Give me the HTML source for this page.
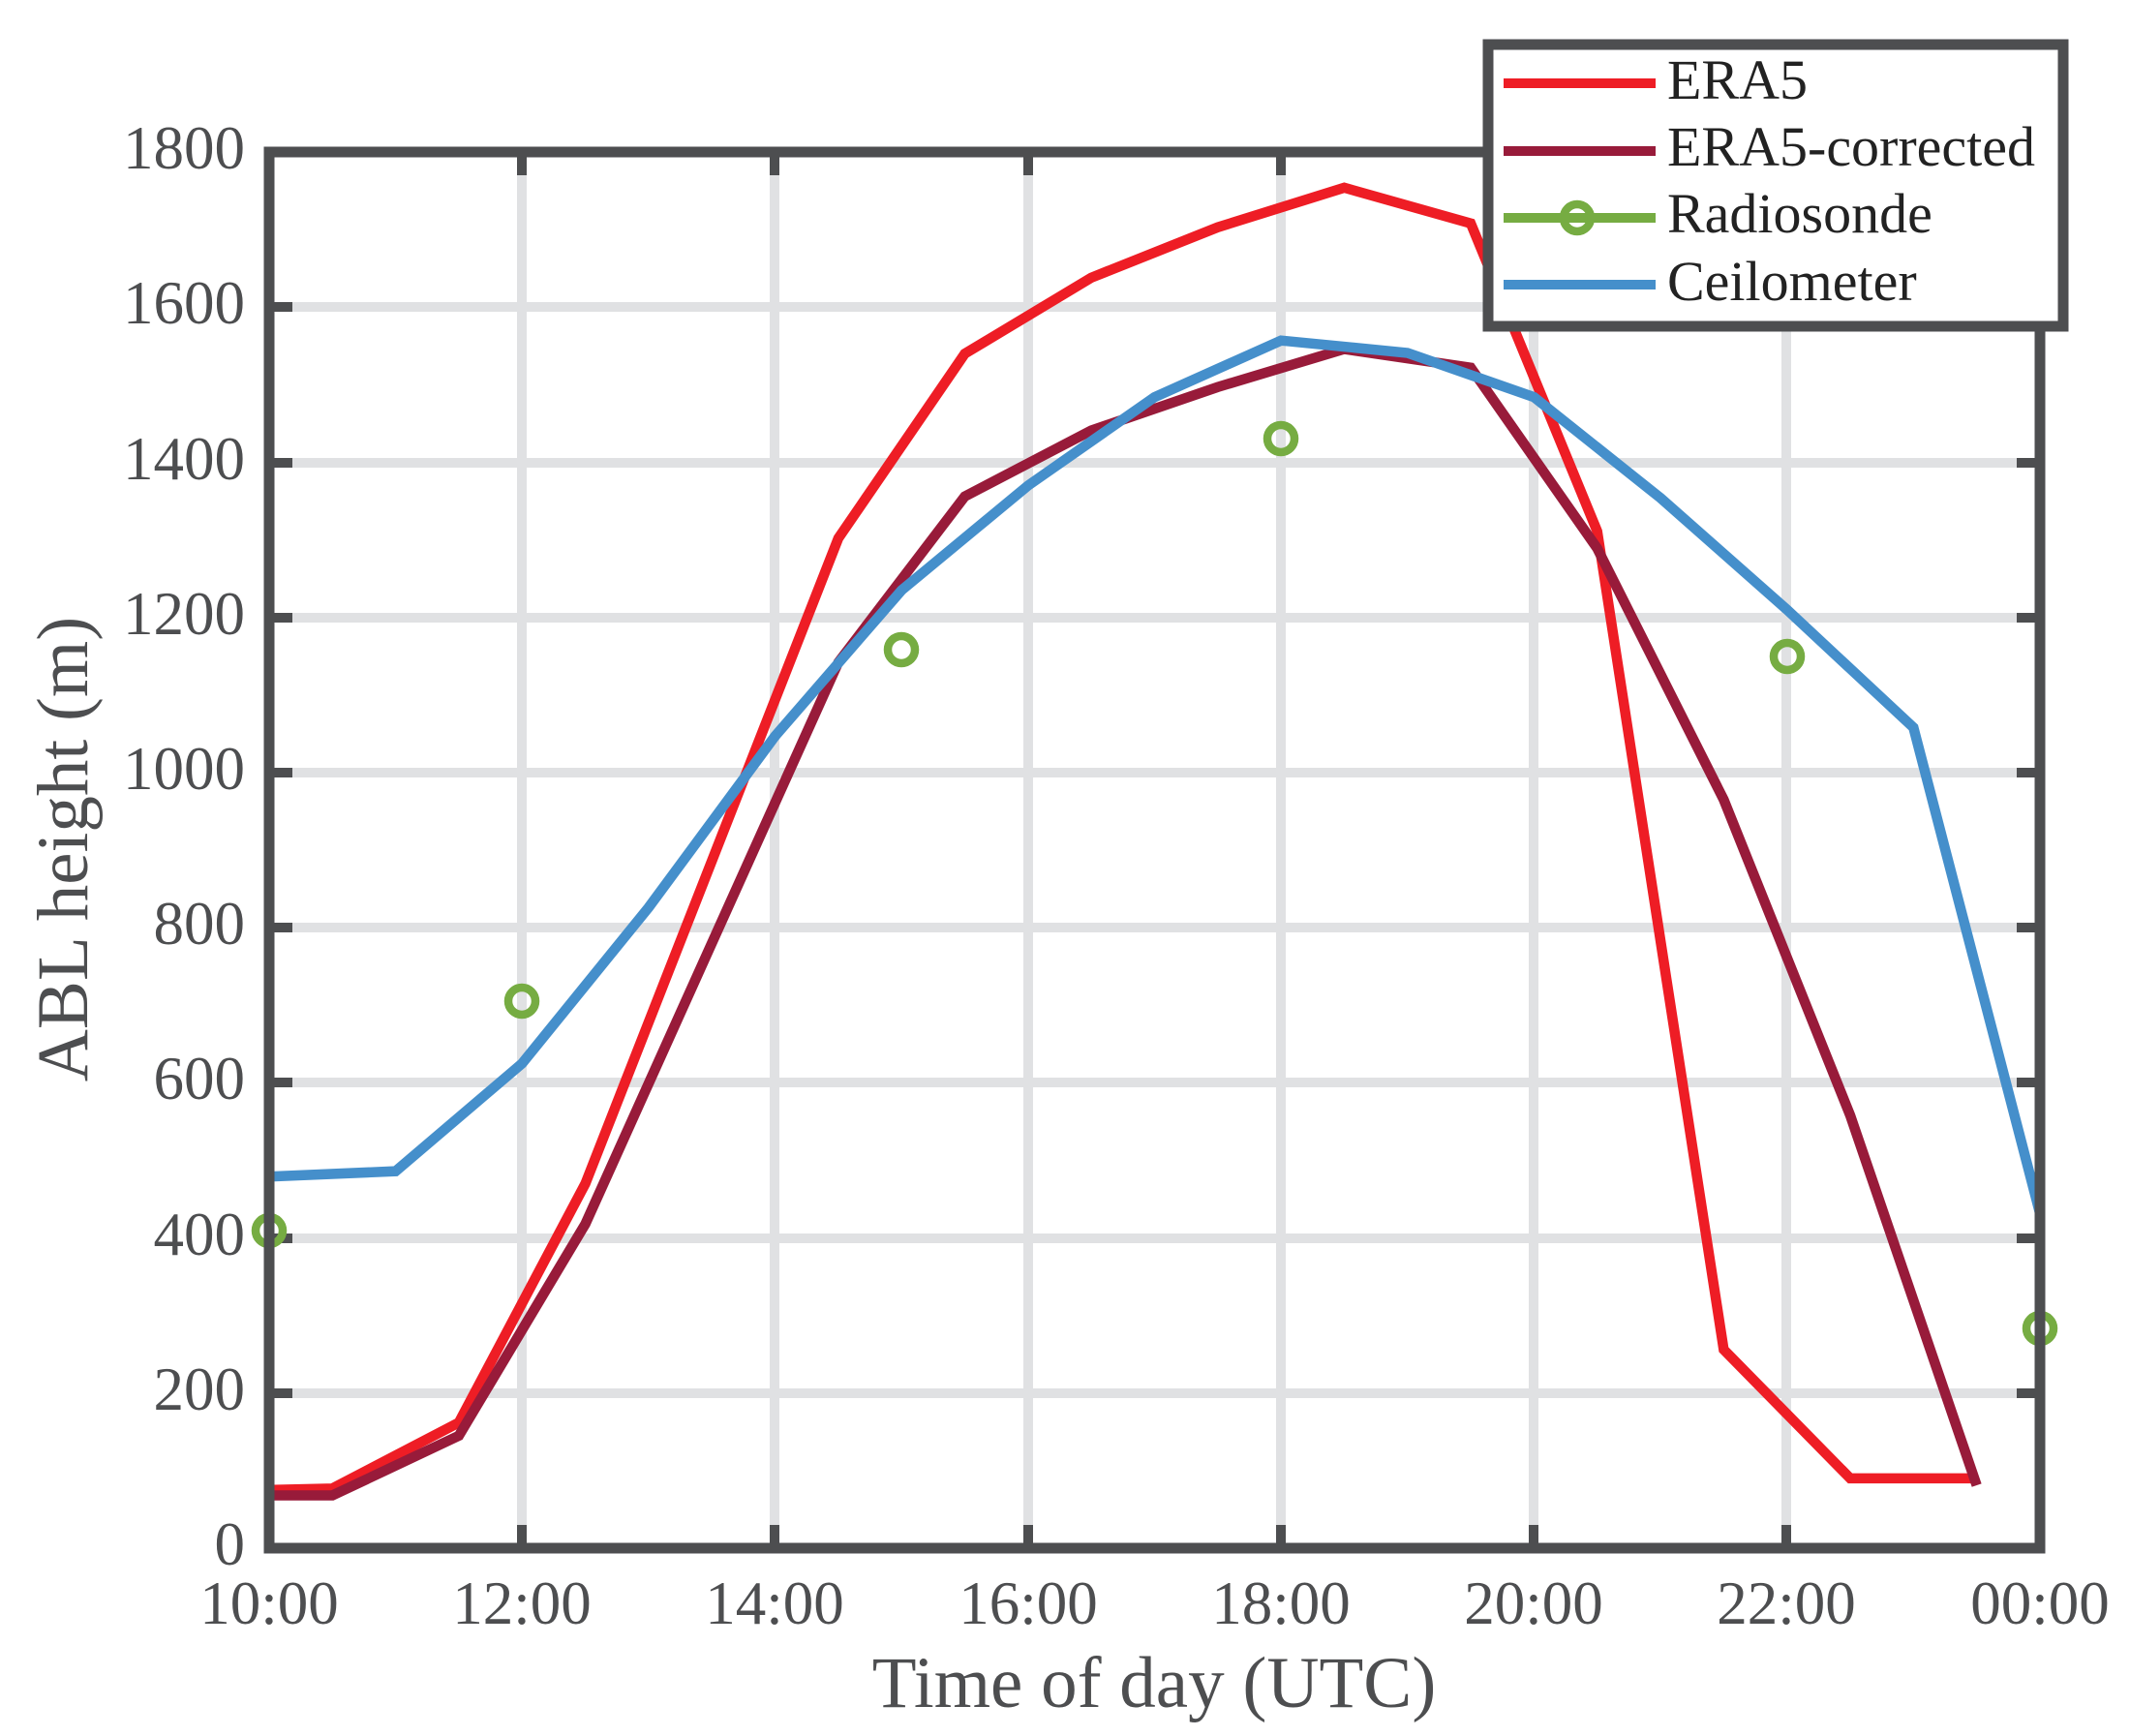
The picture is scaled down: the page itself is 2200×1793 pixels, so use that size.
<!DOCTYPE html>
<html><head><meta charset="utf-8"><style>
html,body{margin:0;padding:0;background:#fff;}
svg{display:block;}
text{font-family:"Liberation Serif",serif;fill:#4d4e50;}
</style></head><body>
<svg width="2200" height="1793" viewBox="0 0 2200 1793" xmlns="http://www.w3.org/2000/svg">
<rect width="2200" height="1793" fill="#fff"/>
<g stroke="#e0e1e3" stroke-width="10">
<line x1="539" y1="157" x2="539" y2="1599"/><line x1="800" y1="157" x2="800" y2="1599"/>
<line x1="1062" y1="157" x2="1062" y2="1599"/><line x1="1323" y1="157" x2="1323" y2="1599"/>
<line x1="1584" y1="157" x2="1584" y2="1599"/><line x1="1845" y1="157" x2="1845" y2="1599"/>
<line x1="278" y1="1439" x2="2107" y2="1439"/><line x1="278" y1="1279" x2="2107" y2="1279"/>
<line x1="278" y1="1118" x2="2107" y2="1118"/><line x1="278" y1="958" x2="2107" y2="958"/>
<line x1="278" y1="798" x2="2107" y2="798"/><line x1="278" y1="638" x2="2107" y2="638"/>
<line x1="278" y1="478" x2="2107" y2="478"/><line x1="278" y1="317" x2="2107" y2="317"/>
</g>
<g stroke="#4d4e50" stroke-width="10">
<path d="M539 1599v-24M800 1599v-24M1062 1599v-24M1323 1599v-24M1584 1599v-24M1845 1599v-24
M539 157v24M800 157v24M1062 157v24M1323 157v24M1584 157v24M1845 157v24
M278 1439h24M278 1279h24M278 1118h24M278 958h24M278 798h24M278 638h24M278 478h24M278 317h24
M2107 1439h-24M2107 1279h-24M2107 1118h-24M2107 958h-24M2107 798h-24M2107 638h-24M2107 478h-24M2107 317h-24"/>
</g>
<g transform="translate(278,1599) scale(130.64,-0.8011)" fill="none" stroke-linejoin="miter">
<polyline vector-effect="non-scaling-stroke" stroke="#ee1d25" stroke-width="10.5" points="0,75 0.5,77 1.5,162 2.5,470 4.5,1302 5.5,1540 6.5,1638 7.5,1703 8.5,1754 9.5,1708 10.5,1311 11.5,256 12.5,90 13.5,90"/>
<polyline vector-effect="non-scaling-stroke" stroke="#981b3a" stroke-width="10.5" points="0,68 0.5,68 1.5,145 2.5,418 4.5,1142 5.5,1356 6.5,1441 7.5,1497 8.5,1546 9.5,1522 10.5,1289 11.5,965 12.5,558 13.5,81"/>
</g>
<g fill="none" stroke="#76ac42" stroke-width="8.5">
<circle cx="278" cy="1271" r="14"/><circle cx="539" cy="1034" r="14"/><circle cx="931" cy="671" r="14"/>
<circle cx="1323" cy="453" r="14"/><circle cx="1846" cy="678" r="14"/><circle cx="2107" cy="1372" r="14"/>
</g>
<g transform="translate(278,1599) scale(130.64,-0.8011)" fill="none">
<polyline vector-effect="non-scaling-stroke" stroke="#458fcb" stroke-width="10.5" points="0,479 1,486 2,625 3,826 4,1047 5,1235 6,1370 7,1484 8,1557 9,1541 10,1484 11,1354 12,1210 13,1058 14,432"/>
</g>
<rect x="278" y="157" width="1829" height="1442" fill="none" stroke="#4d4e50" stroke-width="11"/>
<g font-size="63" text-anchor="end">
<text x="253" y="174">1800</text><text x="253" y="334">1600</text><text x="253" y="495">1400</text>
<text x="253" y="655">1200</text><text x="253" y="815">1000</text><text x="253" y="975">800</text>
<text x="253" y="1135">600</text><text x="253" y="1296">400</text><text x="253" y="1456">200</text>
<text x="253" y="1616">0</text>
</g>
<g font-size="63" text-anchor="middle">
<text x="278" y="1677">10:00</text><text x="539" y="1677">12:00</text><text x="800" y="1677">14:00</text>
<text x="1062" y="1677">16:00</text><text x="1323" y="1677">18:00</text><text x="1584" y="1677">20:00</text>
<text x="1845" y="1677">22:00</text><text x="2107" y="1677">00:00</text>
</g>
<text x="1192" y="1763" font-size="75" text-anchor="middle">Time of day (UTC)</text>
<text transform="translate(90,877) rotate(-90)" font-size="75" text-anchor="middle">ABL height (m)</text>
<rect x="1537" y="46" width="594" height="291" fill="#fff" stroke="#4d4e50" stroke-width="11"/>
<g stroke-width="10">
<line x1="1553" y1="86" x2="1710" y2="86" stroke="#ee1d25"/>
<line x1="1553" y1="156" x2="1710" y2="156" stroke="#981b3a"/>
<line x1="1553" y1="225" x2="1710" y2="225" stroke="#76ac42"/>
<circle cx="1629" cy="225" r="14" fill="none" stroke="#76ac42" stroke-width="8.5"/>
<line x1="1553" y1="294" x2="1710" y2="294" stroke="#458fcb"/>
</g>
<g font-size="58">
<text x="1722" y="102" style="fill:#222">ERA5</text>
<text x="1722" y="171" style="fill:#222">ERA5-corrected</text>
<text x="1722" y="240" style="fill:#222">Radiosonde</text>
<text x="1722" y="310" style="fill:#222">Ceilometer</text>
</g>
</svg>
</body></html>
